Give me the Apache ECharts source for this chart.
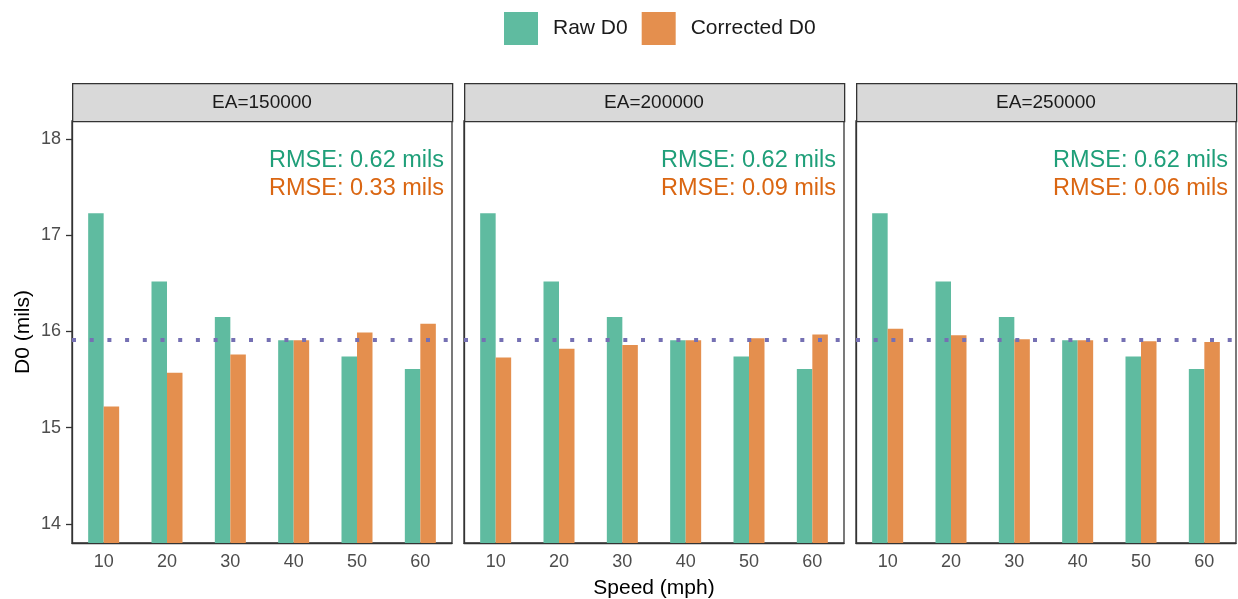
<!DOCTYPE html>
<html>
<head>
<meta charset="utf-8">
<title>D0 by speed</title>
<script src="https://cdn.jsdelivr.net/npm/echarts@6/dist/echarts.min.js"></script>
<style>
  html, body { margin: 0; padding: 0; background: #fff; }
  #chart { width: 1238px; height: 599px; }
</style>
</head>
<body>
<div id="chart"></div>
<script>
// data
var speeds = ['10', '20', '30', '40', '50', '60'];
var panels = ['EA=150000', 'EA=200000', 'EA=250000'];
var rawD0 = [17.23, 16.52, 16.15, 15.91, 15.74, 15.61];
var correctedEA150 = [15.22, 15.57, 15.76, 15.91, 15.99, 16.08];
var correctedEA200 = [15.73, 15.82, 15.86, 15.91, 15.93, 15.97];
var correctedEA250 = [16.03, 15.96, 15.92, 15.91, 15.90, 15.89];
var rmseRaw = ['0.62', '0.62', '0.62'];
var rmseCorrected = ['0.33', '0.09', '0.06'];
var referenceD0 = 15.91;
var yTicks = [14, 15, 16, 17, 18];

var corrected = [correctedEA150, correctedEA200, correctedEA250];

var FONT = 'Liberation Sans, Arial, sans-serif';
var GREEN_FILL = '#5fbba0';
var ORANGE_FILL = '#e48f4e';
var GREEN_TEXT = '#1f9f79';
var ORANGE_TEXT = '#da6612';

var chart = echarts.init(document.getElementById('chart'));

var panelLeft = [72, 464, 856];
var panelWidth = 380;
var panelTop = 121;
var panelHeight = 422;
var stripTop = 83;

var grids = [], xAxes = [], yAxes = [], series = [], graphics = [];

panels.forEach(function (name, i) {
    grids.push({
        left: panelLeft[i], top: panelTop, width: panelWidth, height: panelHeight,
        containLabel: false, outerBoundsMode: 'none',
        show: true, borderColor: '#333', borderWidth: 1.3, backgroundColor: '#fff'
    });
    xAxes.push({
        type: 'category', gridIndex: i, data: speeds,
        axisLine: { lineStyle: { color: '#333', width: 1.3 } },
        axisTick: { alignWithLabel: true, length: 6, lineStyle: { color: '#333', width: 1.3 } },
        axisLabel: { color: '#4d4d4d', fontSize: 18, fontFamily: FONT, margin: 10 },
        name: i === 1 ? 'Speed (mph)' : '',
        nameLocation: 'middle', nameGap: 35,
        nameTextStyle: { color: '#000', fontSize: 21, fontFamily: FONT }
    });
    yAxes.push({
        type: 'value', gridIndex: i, min: 13.8, max: 18.19,
        splitLine: { show: false },
        axisLine: { show: true, lineStyle: { color: '#333', width: 1.3 } },
        axisTick: { show: i === 0, customValues: yTicks, length: 6, lineStyle: { color: '#333', width: 1.3 } },
        axisLabel: { show: i === 0, customValues: yTicks, color: '#4d4d4d', fontSize: 18, fontFamily: FONT, margin: 11 },
        name: i === 0 ? 'D0 (mils)' : '',
        nameLocation: 'middle', nameRotate: 90, nameGap: 38,
        nameTextStyle: { color: '#000', fontSize: 21, fontFamily: FONT }
    });
    series.push({
        name: 'Raw D0', type: 'bar', xAxisIndex: i, yAxisIndex: i,
        data: rawD0, barWidth: 15.5, barGap: '0%',
        itemStyle: { color: GREEN_FILL }
    });
    series.push({
        name: 'Corrected D0', type: 'bar', xAxisIndex: i, yAxisIndex: i,
        data: corrected[i], barWidth: 15.5, barGap: '0%',
        itemStyle: { color: ORANGE_FILL },
        markLine: {
            silent: true, symbol: 'none', label: { show: false },
            lineStyle: { color: '#7570b3', width: 4, type: [4, 13.7], cap: 'butt', opacity: 1 },
            data: [{ yAxis: referenceD0 }],
            z: 10
        }
    });

    // facet strip
    graphics.push({
        type: 'rect', left: panelLeft[i], top: stripTop,
        shape: { width: panelWidth, height: panelTop - stripTop },
        style: { fill: '#d9d9d9', stroke: '#333', lineWidth: 1.3 }
    });
    graphics.push({
        type: 'text', x: panelLeft[i] + panelWidth / 2, y: (stripTop + panelTop) / 2 + 1,
        style: { text: name, fill: '#1a1a1a', font: '19px ' + FONT, textAlign: 'center', textVerticalAlign: 'middle' }
    });
    // RMSE labels
    graphics.push({
        type: 'text', x: panelLeft[i] + panelWidth - 8, y: 161, z: 20,
        style: { text: 'RMSE: ' + rmseRaw[i] + ' mils', fill: GREEN_TEXT, font: '23.5px ' + FONT, textAlign: 'right', textVerticalAlign: 'middle' }
    });
    graphics.push({
        type: 'text', x: panelLeft[i] + panelWidth - 8, y: 189, z: 20,
        style: { text: 'RMSE: ' + rmseCorrected[i] + ' mils', fill: ORANGE_TEXT, font: '23.5px ' + FONT, textAlign: 'right', textVerticalAlign: 'middle' }
    });
});

var option = {
    animation: false,
    backgroundColor: '#fff',
    legend: {
        data: ['Raw D0', 'Corrected D0'],
        left: 504, top: 12, padding: 0,
        icon: 'rect', itemWidth: 34, itemHeight: 33, itemGap: 14,
        textStyle: { color: '#1a1a1a', fontSize: 21, fontFamily: FONT, padding: [0, 0, 0, 10] }
    },
    grid: grids,
    xAxis: xAxes,
    yAxis: yAxes,
    series: series,
    graphic: graphics
};

chart.setOption(option);
</script>
</body>
</html>
